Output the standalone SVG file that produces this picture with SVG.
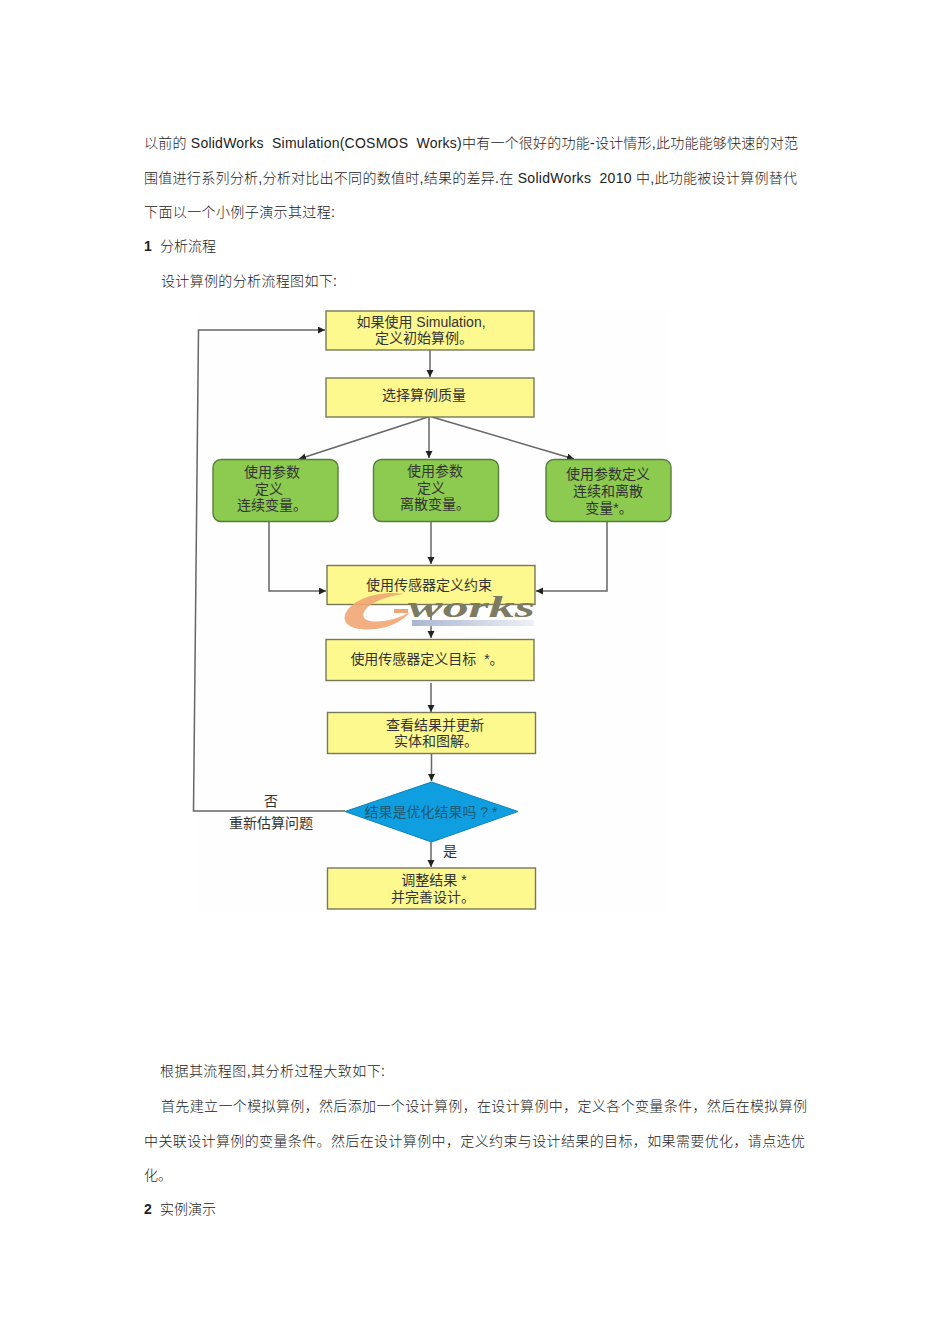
<svg xmlns="http://www.w3.org/2000/svg" width="950" height="1344" viewBox="0 0 950 1344">
<style>
text{font-family:"Liberation Sans","Noto Sans CJK SC",sans-serif;fill:#1c1c1c}
.b{font-size:14px;font-weight:300;fill:#222;white-space:pre}
.n{font-size:14px;text-anchor:middle;fill:#333;font-weight:400}
.y{fill:#fdf98f;stroke:#77775a;stroke-width:1.4}
.g{fill:#8ccb50;stroke:#587c3c;stroke-width:1.4}
.c{fill:none;stroke:#666;stroke-width:1.5}
</style>
<defs>
<marker id="a" markerWidth="8" markerHeight="8" refX="7" refY="3.500" orient="auto" markerUnits="userSpaceOnUse"><path d="M0 0L7 3.500L0 7Z" fill="#222"/></marker>
<linearGradient id="bar"><stop offset="0" stop-color="#aab6d2"/><stop offset="1" stop-color="#eef0f4"/></linearGradient>
</defs>
<rect width="950" height="1344" fill="#fff"/>
<g id="body-top">
<text class="b" x="144" y="148" textLength="654" lengthAdjust="spacing">以前的 SolidWorks  Simulation(COSMOS  Works)中有一个很好的功能-设计情形,此功能能够快速的对范</text>
<text class="b" x="144" y="182.500" textLength="653" lengthAdjust="spacing">围值进行系列分析,分析对比出不同的数值时,结果的差异.在 SolidWorks  2010 中,此功能被设计算例替代</text>
<text class="b" x="144" y="217" textLength="191" lengthAdjust="spacing">下面以一个小例子演示其过程:</text>
<text class="b" x="144" y="251" style="font-weight:700">1</text>
<text class="b" x="160" y="251">分析流程</text>
<text class="b" x="161" y="285.500" textLength="176" lengthAdjust="spacing">设计算例的分析流程图如下:</text>
</g>
<rect x="195" y="308" width="476" height="604" fill="#fefefe"/>
<g id="connectors">
<path class="c" d="M430 350V377" marker-end="url(#a)"/>
<path class="c" d="M428 417L299 459" marker-end="url(#a)"/>
<path class="c" d="M429 417V458" marker-end="url(#a)"/>
<path class="c" d="M432 417L574 459" marker-end="url(#a)"/>
<path class="c" d="M269 521V591H326" marker-end="url(#a)"/>
<path class="c" d="M431 521V564" marker-end="url(#a)"/>
<path class="c" d="M607 521V591H536" marker-end="url(#a)"/>
<path class="c" d="M431 605V638" marker-end="url(#a)"/>
<path class="c" d="M431 683V712" marker-end="url(#a)"/>
<path class="c" d="M431.500 754V781" marker-end="url(#a)"/>
<path class="c" d="M345 811H193.500L198.500 330H325" marker-end="url(#a)"/>
<path class="c" d="M431 842V867" marker-end="url(#a)"/>
</g>
<g id="n1"><rect class="y" x="326" y="311" width="208" height="39"/><text class="n" x="421" y="327">如果使用 Simulation,</text><text class="n" x="424" y="343">定义初始算例。</text></g>
<g id="n2"><rect class="y" x="326" y="378" width="208" height="39"/><text class="n" x="424" y="400">选择算例质量</text></g>
<g id="n3"><rect class="g" x="213" y="459.500" width="125" height="62" rx="8"/><text class="n" x="272" y="477">使用参数</text><text class="n" x="269" y="494">定义</text><text class="n" x="272" y="510">连续变量。</text></g>
<g id="n4"><rect class="g" x="373.500" y="459.500" width="125" height="62" rx="8"/><text class="n" x="435" y="476">使用参数</text><text class="n" x="431" y="493">定义</text><text class="n" x="435" y="509">离散变量。</text></g>
<g id="n5"><rect class="g" x="546" y="459.500" width="125" height="62" rx="8"/><text class="n" x="608" y="479">使用参数定义</text><text class="n" x="608" y="496">连续和离散</text><text class="n" x="609" y="513">变量*。</text></g>
<g id="n6"><rect class="y" x="327" y="565.500" width="208" height="39"/><text class="n" x="429" y="590">使用传感器定义约束</text></g>
<g id="watermark">
<path d="M404 594C378 590 350 600 345 615C342 627 358 631 376 629C392 627 404 620 410 612C398 619 382 623 370 621C360 619 362 610 372 604C382 598 394 595 404 594Z" fill="#f0a674" opacity="0.9"/>
<rect x="394" y="609" width="14" height="4" fill="#f0a674"/>
<rect x="412" y="620" width="122" height="6" fill="url(#bar)"/>
<text x="408" y="617" style="font-family:'Liberation Serif',serif;font-size:30px;font-weight:700;font-style:italic;fill:#7d7a62" textLength="127" lengthAdjust="spacingAndGlyphs">works</text>
</g>
<g id="n7"><rect class="y" x="326" y="639.500" width="208" height="41"/><text class="n" x="427" y="664" style="white-space:pre">使用传感器定义目标  *。</text></g>
<g id="n8"><rect class="y" x="327.500" y="712.500" width="208" height="41"/><text class="n" x="435" y="730">查看结果并更新</text><text class="n" x="436" y="746">实体和图解。</text></g>
<g id="n9"><path d="M345 811.500L431.500 782L518 811.500L431.500 842Z" fill="#0f9fe0" stroke="#0b82b8" stroke-width="1"/><text class="n" x="431" y="817" style="fill:#1d5a74">结果是优化结果吗 ? *</text></g>
<g id="n10"><rect class="y" x="327.500" y="868" width="208" height="41"/><text class="n" x="434" y="885">调整结果 *</text><text class="n" x="433" y="902">并完善设计。</text></g>
<g id="labels"><text class="n" x="271" y="806">否</text><text class="n" x="271" y="828">重新估算问题</text><text class="n" x="450" y="856">是</text></g>
<g id="body-bottom">
<text class="b" x="160" y="1076" textLength="225" lengthAdjust="spacing">根据其流程图,其分析过程大致如下:</text>
<text class="b" x="161" y="1111" textLength="646" lengthAdjust="spacing">首先建立一个模拟算例，然后添加一个设计算例，在设计算例中，定义各个变量条件，然后在模拟算例</text>
<text class="b" x="144" y="1145.500" textLength="661" lengthAdjust="spacing">中关联设计算例的变量条件。然后在设计算例中，定义约束与设计结果的目标，如果需要优化，请点选优</text>
<text class="b" x="144" y="1180">化。</text>
<text class="b" x="144" y="1214" style="font-weight:700">2</text>
<text class="b" x="160" y="1214">实例演示</text>
</g>
</svg>
